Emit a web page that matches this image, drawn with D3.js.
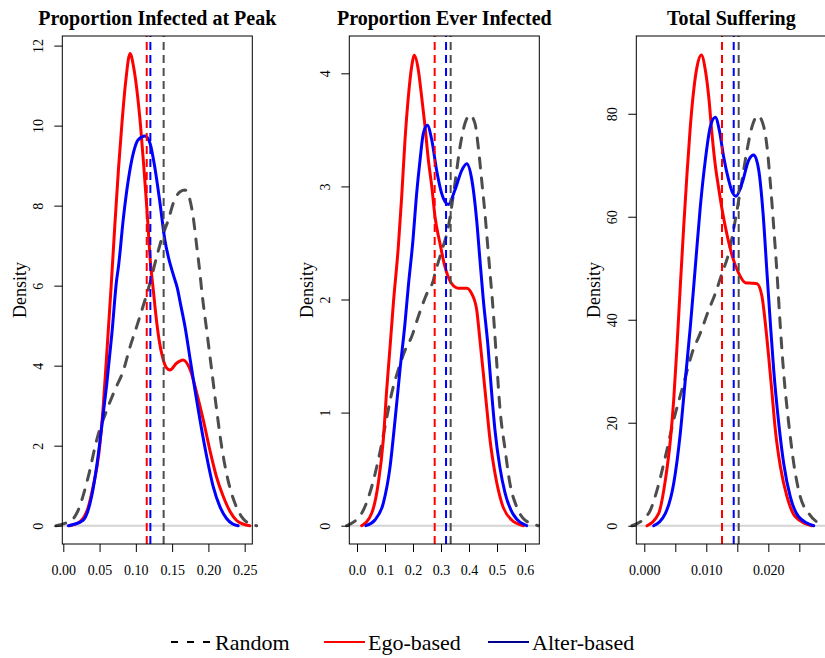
<!DOCTYPE html>
<html>
<head>
<meta charset="utf-8">
<script src="https://cdn.jsdelivr.net/npm/d3@7"></script>
<style>
  body { margin: 0; background: #fff; }
  svg { display: block; }
  text { font-family: "Liberation Serif", "Times New Roman", serif; }
</style>
</head>
<body>
<div id="chart"></div>
<script>
// ---- data ----
var titles = ["Proportion Infected at Peak", "Proportion Ever Infected", "Total Suffering"];

var xlims = [[-0.00138, 0.2605], [-0.0275, 0.651], [-0.00129, 0.02935]];
var ylims = [[-0.4575, 12.24], [-0.162, 4.33], [-3.55, 95.1]];

var xticks = [[0, 0.05, 0.10, 0.15, 0.20, 0.25],
              [0, 0.1, 0.2, 0.3, 0.4, 0.5, 0.6],
              [0, 0.005, 0.010, 0.015, 0.020, 0.025]];
var xtickLabels = [["0.00", "0.05", "0.10", "0.15", "0.20", "0.25"],
                   ["0.0", "0.1", "0.2", "0.3", "0.4", "0.5", "0.6"],
                   ["0.000", "", "0.010", "", "0.020", ""]];
var yticks = [[0, 2, 4, 6, 8, 10, 12], [0, 1, 2, 3, 4], [0, 20, 40, 60, 80]];

// density curves, [x, density]
var peakRandom = [[-0.01, 0], [0.0138, 0.18], [0.0185, 0.31], [0.0345, 1.23], [0.046, 2.14], [0.06, 2.89],
  [0.071, 3.39], [0.083, 3.89], [0.092, 4.47], [0.101, 4.97], [0.1126, 5.64], [0.12, 6.1],
  [0.1287, 6.72], [0.138, 7.31], [0.1447, 7.64], [0.1516, 8.06], [0.161, 8.35], [0.1677, 8.39],
  [0.1746, 8.14], [0.179, 7.72], [0.184, 6.97], [0.1884, 6.3], [0.1907, 5.89], [0.1976, 4.89],
  [0.2045, 3.89], [0.2114, 2.89], [0.2183, 1.97], [0.227, 1.14], [0.2366, 0.56], [0.2459, 0.22],
  [0.2555, 0.06], [0.2665, 0]];
var peakEgo = [[0.009, 0], [0.023, 0.1], [0.0345, 0.47], [0.041, 0.97], [0.049, 1.8], [0.055, 2.97],
  [0.061, 4.6], [0.066, 6.0], [0.071, 7.5], [0.076, 8.9], [0.081, 10.1], [0.086, 11.1],
  [0.092, 11.8], [0.0975, 11.4], [0.102, 10.8], [0.1066, 9.97], [0.111, 8.97], [0.1157, 7.8],
  [0.12, 6.6], [0.124, 5.9], [0.128, 5.2], [0.132, 4.65], [0.137, 4.2], [0.142, 3.95],
  [0.147, 3.89], [0.156, 4.06], [0.165, 4.14], [0.175, 3.89], [0.184, 3.31], [0.193, 2.64],
  [0.202, 1.89], [0.211, 1.23], [0.2205, 0.73], [0.23, 0.35], [0.2389, 0.13], [0.248, 0.04],
  [0.257, 0]];
var peakAlter = [[0.007, 0], [0.0138, 0.03], [0.0276, 0.14], [0.039, 0.73], [0.046, 1.48], [0.053, 2.48],
  [0.06, 3.56], [0.067, 4.81], [0.0735, 6.14], [0.076, 6.47], [0.083, 7.72], [0.0896, 8.64],
  [0.0965, 9.31], [0.103, 9.64], [0.1126, 9.74], [0.1195, 9.56], [0.126, 8.97], [0.1333, 8.06],
  [0.14, 7.14], [0.147, 6.56], [0.152, 6.25], [0.157, 5.95], [0.162, 5.5], [0.168, 4.95],
  [0.175, 4.14], [0.1815, 3.39], [0.1884, 2.64], [0.1976, 1.73], [0.2067, 0.97], [0.216, 0.47],
  [0.225, 0.18], [0.233, 0.05], [0.241, 0]];

var everRandom = [[-0.037, 0], [0.0167, 0.11], [0.052, 0.34], [0.076, 0.58], [0.1, 0.875], [0.1238, 1.17],
  [0.1476, 1.38], [0.1714, 1.55], [0.195, 1.67], [0.219, 1.85], [0.249, 2.05], [0.2726, 2.17],
  [0.2786, 2.23], [0.3, 2.41], [0.326, 2.64], [0.35, 3.03], [0.3679, 3.35], [0.386, 3.56],
  [0.4036, 3.63], [0.421, 3.56], [0.433, 3.35], [0.445, 3.06], [0.457, 2.76], [0.4689, 2.41],
  [0.4869, 1.88], [0.499, 1.44], [0.51, 1.05], [0.529, 0.67], [0.546, 0.375], [0.5697, 0.17],
  [0.6, 0.05], [0.6475, 0]];
var everEgo = [[0.0167, 0], [0.0524, 0.11], [0.076, 0.375], [0.094, 0.76], [0.106, 1.2], [0.118, 1.58],
  [0.13, 1.97], [0.1476, 2.47], [0.1596, 2.91], [0.1714, 3.41], [0.1833, 3.79], [0.1953, 4.06],
  [0.2048, 4.16], [0.219, 4.03], [0.231, 3.79], [0.243, 3.53], [0.255, 3.23], [0.267, 3.0],
  [0.2786, 2.73], [0.296, 2.5], [0.314, 2.29], [0.338, 2.14], [0.362, 2.1], [0.392, 2.1],
  [0.41, 2.05], [0.4274, 1.91], [0.439, 1.64], [0.451, 1.35], [0.463, 1.05], [0.475, 0.76],
  [0.493, 0.46], [0.517, 0.2], [0.5524, 0.05], [0.594, 0]];
var everAlter = [[0.032, 0], [0.064, 0.05], [0.094, 0.2], [0.118, 0.52], [0.1357, 0.93], [0.1536, 1.38],
  [0.1714, 1.79], [0.183, 2.11], [0.2, 2.53], [0.212, 2.91], [0.225, 3.23], [0.237, 3.47],
  [0.251, 3.54], [0.267, 3.41], [0.2845, 3.14], [0.302, 2.94], [0.326, 2.84], [0.35, 2.97],
  [0.3738, 3.14], [0.392, 3.2], [0.41, 3.06], [0.4274, 2.7], [0.439, 2.35], [0.451, 2.0],
  [0.468, 1.58], [0.48, 1.2], [0.4925, 0.85], [0.51, 0.52], [0.5286, 0.29], [0.558, 0.1],
  [0.606, 0]];

var sufferRandom = [[-0.002, 0], [0.0007, 2.4], [0.00205, 6.9], [0.0034, 13.4], [0.00474, 20.5], [0.00635, 27.6],
  [0.0077, 33.5], [0.00903, 37.4], [0.01039, 41.9], [0.01145, 45.1], [0.01253, 49], [0.01361, 52.9],
  [0.01468, 59.4], [0.01576, 67.1], [0.01656, 72.9], [0.01737, 77.5], [0.01834, 79.6], [0.01926, 77.5],
  [0.01979, 73.6], [0.02033, 66.5], [0.02087, 58], [0.0214, 49], [0.02194, 38.6], [0.02248, 29.6],
  [0.02329, 19.9], [0.0241, 12.1], [0.02516, 5.6], [0.02652, 2.4], [0.0291, 0]];
var sufferEgo = [[0.00044, 0], [0.00232, 2.4], [0.0034, 8.9], [0.0042, 16.6], [0.00474, 24.4], [0.00527, 34.8],
  [0.0058, 46.4], [0.00635, 58], [0.00689, 68.4], [0.00742, 77.5], [0.00797, 84.6], [0.0085, 89.1],
  [0.0092, 91.4], [0.00984, 88.5], [0.01039, 83.3], [0.01092, 76], [0.01145, 70], [0.012, 65.5],
  [0.01253, 61.5], [0.01334, 56.5], [0.01415, 52.5], [0.01523, 49], [0.01629, 47.2], [0.01737, 47.1],
  [0.01818, 47], [0.01898, 44.5], [0.01952, 39.3], [0.02006, 32.8], [0.0206, 25.7], [0.02113, 18.6],
  [0.02194, 11.5], [0.02302, 5.6], [0.02435, 1.75], [0.02705, 0]];
var sufferAlter = [[0.00152, 0], [0.0034, 2.4], [0.00474, 8.2], [0.0058, 17.9], [0.00661, 28.3], [0.00742, 38.6],
  [0.00823, 50.3], [0.00903, 61.9], [0.00984, 71], [0.01065, 77.5], [0.01145, 79.3], [0.0121, 76.8],
  [0.0128, 71.6], [0.01361, 67.1], [0.01415, 64.9], [0.01479, 64], [0.01576, 66.5], [0.01684, 71],
  [0.01765, 72], [0.01845, 69.1], [0.01915, 60.7], [0.01979, 49], [0.02033, 39.3], [0.02087, 30.2],
  [0.02168, 19.9], [0.02248, 12.1], [0.02355, 5.6], [0.0249, 1.75], [0.02732, 0]];

var meanRandom = [0.1383, 0.3345, 0.01522];
var meanEgo = [0.115, 0.2774, 0.01253];
var meanAlter = [0.12, 0.318, 0.01442];

var legendLabels = ["Random", "Ego-based", "Alter-based"];

// ---- drawing ----
var width = 825, height = 658;
var svg = d3.select("#chart").append("svg")
            .attr("width", width)
            .attr("height", height);

var boxW = 190, boxTop = 36, boxBottom = 544;
var lefts = [62.3, 349.3, 636.3];
var curveSets = [[peakRandom, peakEgo, peakAlter],
                 [everRandom, everEgo, everAlter],
                 [sufferRandom, sufferEgo, sufferAlter]];
var curveColors = ["#4d4d4d", "#ff0000", "#0000ff"];
var serif = "Liberation Serif";

lefts.forEach(function(left, i) {
  var g = svg.append("g").attr("transform", "translate(" + left + ",0)");

  var x = d3.scaleLinear().domain(xlims[i]).range([0, boxW]);
  var y = d3.scaleLinear().domain(ylims[i]).range([boxBottom, boxTop]);

  // zero line
  g.append("line")
   .attr("x1", 0).attr("x2", boxW)
   .attr("y1", y(0)).attr("y2", y(0))
   .attr("stroke", "#d3d3d3")
   .attr("stroke-width", 2);

  var line = d3.line()
               .x(function(d) { return x(d[0]); })
               .y(function(d) { return y(d[1]); })
               .curve(d3.curveMonotoneX);

  curveSets[i].forEach(function(series, k) {
    g.append("path")
     .attr("d", line(series))
     .attr("fill", "none")
     .attr("stroke", curveColors[k])
     .attr("stroke-width", 3)
     .attr("stroke-linejoin", "round")
     .attr("stroke-linecap", "round")
     .attr("stroke-dasharray", k === 0 ? "10,10" : null);
  });

  // mean lines
  [meanRandom[i], meanEgo[i], meanAlter[i]].forEach(function(m, k) {
    g.append("line")
     .attr("x1", x(m)).attr("x2", x(m))
     .attr("y1", boxBottom).attr("y2", boxTop)
     .attr("stroke", curveColors[k])
     .attr("stroke-width", 2)
     .attr("stroke-dasharray", "8,5");
  });

  // box
  g.append("rect")
   .attr("x", 0).attr("y", boxTop)
   .attr("width", boxW).attr("height", boxBottom - boxTop)
   .attr("fill", "none")
   .attr("stroke", "#000")
   .attr("stroke-width", 1);

  // axes
  var xAxis = d3.axisBottom(x)
                .tickValues(xticks[i])
                .tickFormat(function(d, j) { return xtickLabels[i][j]; })
                .tickSize(8);
  var gx = g.append("g")
            .attr("transform", "translate(0," + boxBottom + ")")
            .call(xAxis);
  gx.select(".domain").remove();
  gx.selectAll(".tick line").attr("stroke", "#000");
  gx.selectAll(".tick text")
    .attr("y", 31).attr("dy", null)
    .attr("fill", "#000")
    .style("font-size", "14px")
    .style("font-family", serif);

  var yAxis = d3.axisLeft(y)
                .tickValues(yticks[i])
                .tickFormat(d3.format("d"))
                .tickSize(8);
  var gy = g.append("g").call(yAxis);
  gy.select(".domain").remove();
  gy.selectAll(".tick line").attr("stroke", "#000");
  gy.selectAll(".tick text")
    .attr("x", null).attr("dy", null)
    .attr("text-anchor", "middle")
    .attr("transform", "translate(-19,0) rotate(-90)")
    .attr("fill", "#000")
    .style("font-size", "14px")
    .style("font-family", serif);

  // y label
  g.append("text")
   .attr("transform", "translate(-36," + (boxTop + boxBottom) / 2 + ") rotate(-90)")
   .attr("text-anchor", "middle")
   .style("font-family", serif)
   .style("font-size", "18px")
   .text("Density");

  // title
  g.append("text")
   .attr("x", boxW / 2).attr("y", 25)
   .attr("text-anchor", "middle")
   .style("font-family", serif)
   .style("font-size", "20px")
   .style("font-weight", "bold")
   .text(titles[i]);
});

// legend
var legendX = [171, 324, 488];
var legendColors = ["#000", "#ff0000", "#00008b"];
var legendDash = ["7,9", null, null];
var lg = svg.append("g");
legendLabels.forEach(function(label, k) {
  lg.append("line")
    .attr("x1", legendX[k]).attr("x2", legendX[k] + 41)
    .attr("y1", 642).attr("y2", 642)
    .attr("stroke", legendColors[k])
    .attr("stroke-width", 2)
    .attr("stroke-dasharray", legendDash[k]);
  lg.append("text")
    .attr("x", legendX[k] + 44).attr("y", 650)
    .style("font-family", serif)
    .style("font-size", "22px")
    .text(label);
});
</script>
</body>
</html>
